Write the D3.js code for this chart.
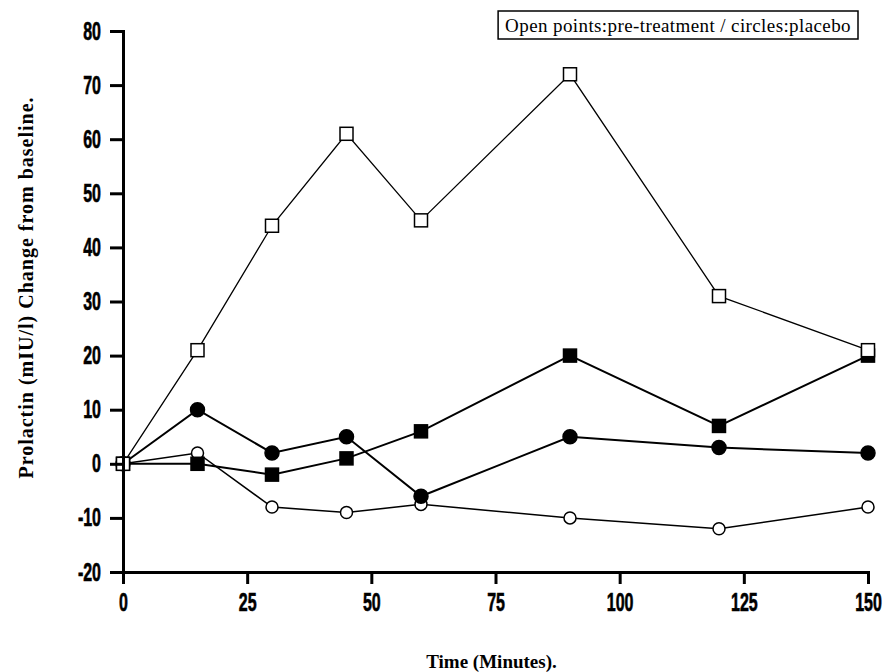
<!DOCTYPE html>
<meta charset="utf-8">
<head>
    <title>Prolactin</title>
</head>
<style>
    body { margin: 0; background: #fff; }
    .tick text { font-family: "Liberation Sans", Arial, sans-serif; font-weight: bold; font-size: 25px; fill: #000; stroke: #000; stroke-width: 0.6; transform-box: fill-box; }
    .xaxis .tick text { transform: scaleX(0.64); transform-origin: center; }
    .yaxis .tick text { transform: scaleX(0.64); transform-origin: right center; }
    .axis path, .axis line { stroke: #000; stroke-width: 3; }
    .title { font-family: "Liberation Serif", "DejaVu Serif", serif; font-weight: bold; font-size: 19px; }
    .ytitle { font-size: 20px; letter-spacing: 1px; }
    .legend { font-family: "Liberation Serif", "DejaVu Serif", serif; font-size: 19px; letter-spacing: 0.4px; }
</style>
<div id="chart"></div>
<script src="https://cdn.jsdelivr.net/npm/d3@7"></script>
<script>

    var times = [0, 15, 30, 45, 60, 90, 120, 150];
    var openSquares   = [0, 21, 44, 61, 45, 72, 31, 21];
    var filledSquares = [0, 0, -2, 1, 6, 20, 7, 20];
    var filledCircles = [0, 10, 2, 5, -6, 5, 3, 2];
    var openCircles   = [0, 2, -8, -9, -7.5, -10, -12, -8];

    var xTicks = [0, 25, 50, 75, 100, 125, 150];
    var yTicks = [-20, -10, 0, 10, 20, 30, 40, 50, 60, 70, 80];

    var margin = {top: 31, right: 20, bottom: 100, left: 123},
        width = 868 - margin.left,
        height = 572 - margin.top;

    var svg = d3.select("#chart")
      .append("svg")
        .attr("width", 888)
        .attr("height", 672)
      .append("g")
        .attr("transform", "translate(" + margin.left + "," + margin.top + ")");

    var x = d3.scaleLinear().domain([0, 150]).range([0, width]);
    var y = d3.scaleLinear().domain([-20, 80]).range([height, 0]);

    // series drawn in back-to-front order
    var series = [
        {vals: openCircles, shape: "circle", fill: "#fff", lw: 1.5},
        {vals: filledCircles, shape: "circle", fill: "#000", lw: 2},
        {vals: filledSquares, shape: "square", fill: "#000", lw: 2},
        {vals: openSquares, shape: "square", fill: "#fff", lw: 1.3}
    ];

    var line = d3.line()
        .x(function(d, i) { return x(times[i]) })
        .y(function(d) { return y(d) });

    series.forEach(function(s) {
        svg.append("path")
          .datum(s.vals)
          .attr("fill", "none")
          .attr("stroke", "#000")
          .attr("stroke-width", s.lw)
          .attr("d", line);
    });

    series.forEach(function(s) {
        var g = svg.append("g");
        if (s.shape == "circle") {
            g.selectAll("circle").data(s.vals).enter().append("circle")
              .attr("cx", function(d, i) { return x(times[i]) })
              .attr("cy", function(d) { return y(d) })
              .attr("r", s.fill == "#000" ? 7 : 6)
              .attr("fill", s.fill)
              .attr("stroke", "#000")
              .attr("stroke-width", 1.5);
        } else {
            var sz = 13;
            g.selectAll("rect").data(s.vals).enter().append("rect")
              .attr("x", function(d, i) { return x(times[i]) - sz / 2 })
              .attr("y", function(d) { return y(d) - sz / 2 })
              .attr("width", sz)
              .attr("height", sz)
              .attr("fill", s.fill)
              .attr("stroke", "#000")
              .attr("stroke-width", 1.5);
        }
    });

    var fmt = function(d) { return String(d) };

    svg.append("g")
      .attr("class", "axis xaxis")
      .attr("transform", "translate(0," + height + ")")
      .call(d3.axisBottom(x).tickValues(xTicks).tickFormat(fmt).tickSize(12).tickPadding(9).tickSizeOuter(12));

    svg.append("g")
      .attr("class", "axis yaxis")
      .call(d3.axisLeft(y).tickValues(yTicks).tickFormat(fmt).tickSize(13).tickPadding(9).tickSizeOuter(13));

    svg.append("text")
      .attr("class", "title")
      .attr("text-anchor", "middle")
      .attr("x", width / 2 - 4)
      .attr("y", height + 96)
      .text("Time (Minutes).");

    svg.append("text")
      .attr("class", "title ytitle")
      .attr("text-anchor", "middle")
      .attr("transform", "translate(" + (-90) + "," + (height / 2 - 14) + ") rotate(-90)")
      .text("Prolactin  (mIU/l) Change from baseline.");

    // legend box
    var leg = svg.append("g").attr("transform", "translate(" + (width - 10) + "," + (-20) + ")");
    var lt = leg.append("text")
      .attr("class", "legend")
      .attr("text-anchor", "end")
      .attr("x", -7)
      .attr("y", 21)
      .text("Open points:pre-treatment / circles:placebo");
    var bb = lt.node().getBBox();
    leg.insert("rect", "text")
      .attr("x", bb.x - 7)
      .attr("y", 0)
      .attr("width", bb.width + 14)
      .attr("height", 28)
      .attr("fill", "#fff")
      .attr("stroke", "#000")
      .attr("stroke-width", 1.5);
</script>
